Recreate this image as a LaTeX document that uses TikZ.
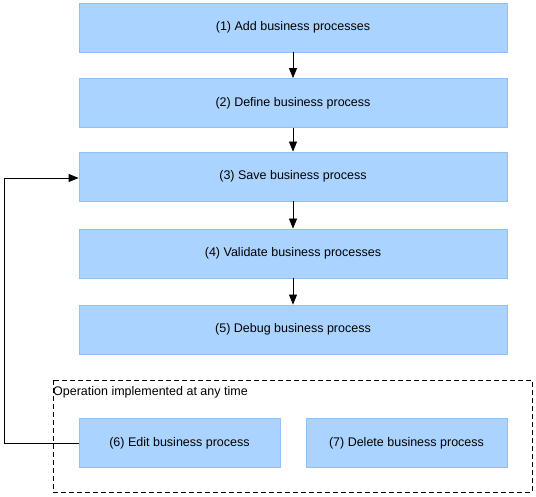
\documentclass[tikz,border=0pt]{standalone}
\usepackage{fontspec}
\setmainfont{Liberation Sans}
\usetikzlibrary{arrows.meta}
\definecolor{boxfill}{HTML}{AAD4FF}
\definecolor{boxline}{HTML}{8EC2F7}
\begin{document}
\begin{tikzpicture}[x=1pt,y=-1pt,
  stepbox/.style={draw=boxline,fill=boxfill,line width=0.8pt,minimum height=49pt,inner sep=0pt,font=\fontsize{12.5}{15}\selectfont},
  wide/.style={minimum width=428pt},
  narrow/.style={minimum width=201pt},
  conn/.style={-{Triangle[length=10pt,width=8pt]},line width=0.8pt,black}]
\useasboundingbox (0,0) rectangle (536,497);
\node[stepbox,wide] (b1) at (293,27.5) {(1) Add business processes};
\node[stepbox,wide] (b2) at (293,103) {(2) Define business process};
\node[stepbox,wide] (b3) at (293,176.5) {(3) Save business process};
\node[stepbox,wide] (b4) at (293,253.5) {(4) Validate business processes};
\node[stepbox,wide] (b5) at (293,329.5) {(5) Debug business process};
\draw[dash pattern=on 5pt off 3pt,line width=1pt] (53,380) rectangle (532,492);
\node[anchor=north west,inner sep=0pt,font=\fontsize{12.5}{15}\selectfont] (lab) at (53,386) {Operation implemented at any time};
\node[stepbox,narrow] (b6) at (179.5,443) {(6) Edit business process};
\node[stepbox,narrow] (b7) at (406.5,443) {(7) Delete business process};
\coordinate (c1) at (4,443);
\coordinate (c2) at (4,178);
\draw[conn] (b1) -- (b2);
\draw[conn] (b2) -- (b3);
\draw[conn] (b3) -- (b4);
\draw[conn] (b4) -- (b5);
\draw[conn] (b6.west) -- (c1) -- (c2) -- (c2 -| b3.west);
\end{tikzpicture}
\end{document}
